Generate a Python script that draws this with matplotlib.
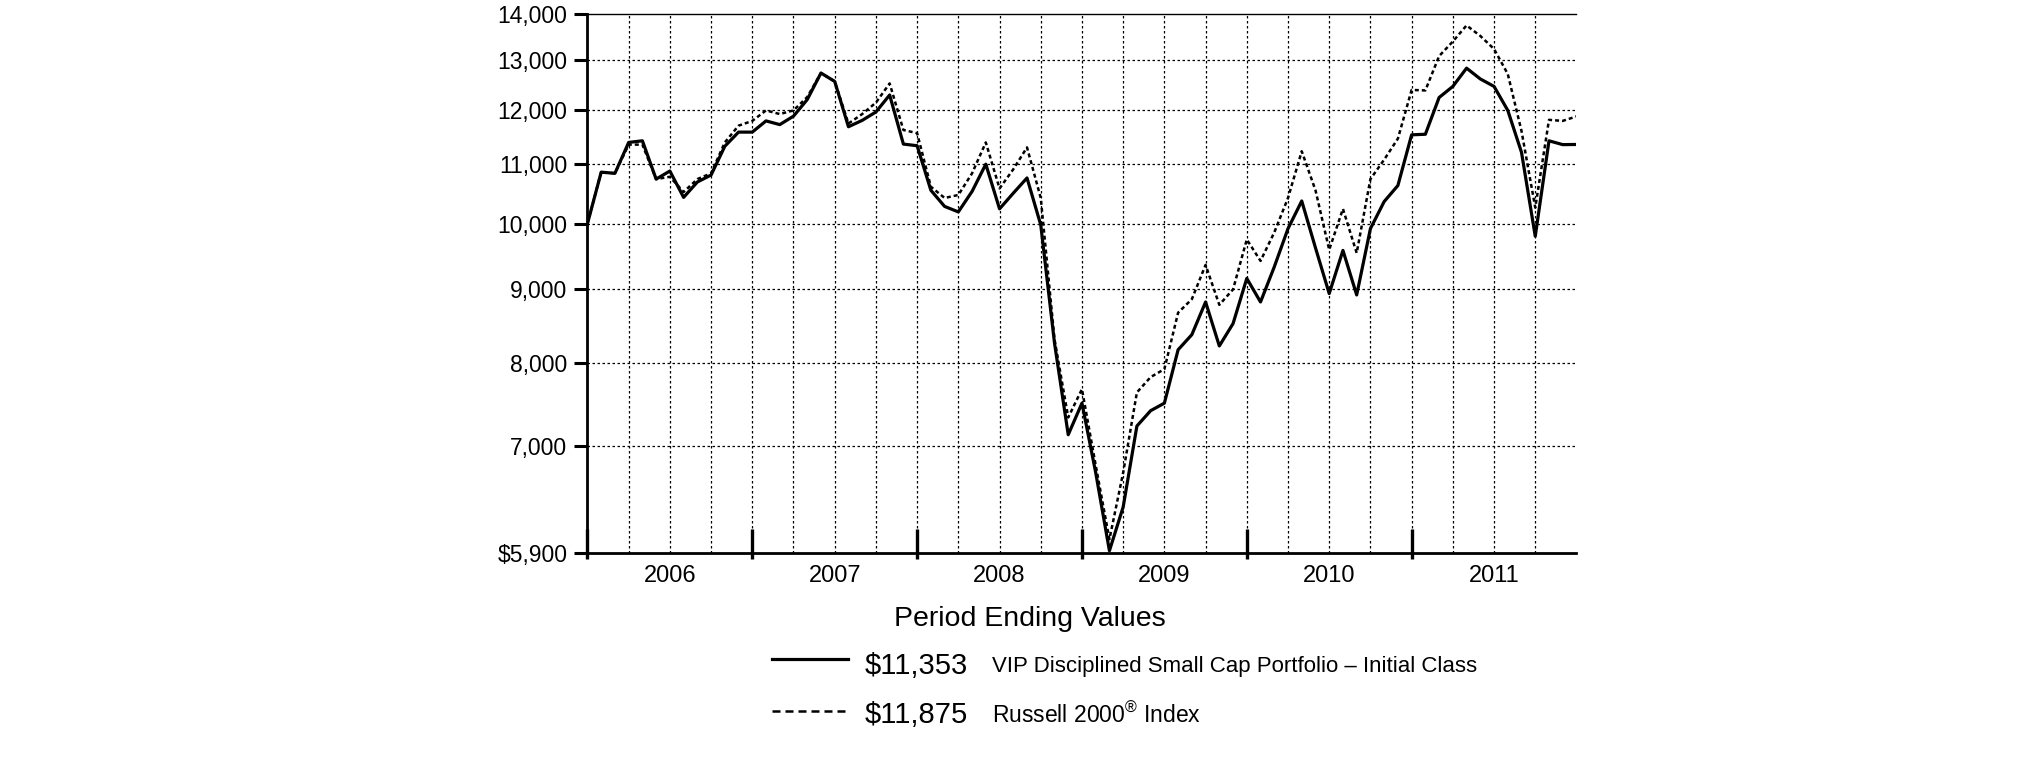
import numpy as np
import matplotlib
matplotlib.use('Agg')
import matplotlib.pyplot as plt
from matplotlib.lines import Line2D
from matplotlib.ticker import FixedLocator, FixedFormatter, NullLocator

plt.rcParams['font.family'] = ['Liberation Sans', 'DejaVu Sans']
plt.rcParams['mathtext.fontset'] = 'custom'
plt.rcParams['mathtext.rm'] = 'Liberation Sans'

# month index 0 = Dec 2005 ... 72 = Dec 2011
fund_values = [
    10000, 10860, 10840, 11390, 11420, 10740, 10880, 10430, 10690, 10810, 11320, 11580,
    11580, 11790, 11720, 11880, 12200, 12730, 12560, 11680, 11800, 11960, 12290, 11360,
    11330, 10550, 10280, 10190, 10530, 11000, 10240, 10500, 10760, 9980, 8260, 7130,
    7500, 6710, 5920, 6350, 7230, 7410, 7500, 8170, 8370, 8820, 8220, 8520,
    9160, 8820, 9330, 9920, 10370, 9620, 8940, 9580, 8920, 9920, 10360, 10630,
    11530, 11540, 12240, 12460, 12830, 12610, 12460, 11990, 11210, 9800, 11420, 11350,
    11353,
]
index_values = [
    10000, 10860, 10840, 11350, 11350, 10740, 10780, 10520, 10740, 10840, 11390, 11700,
    11790, 11990, 11920, 11990, 12250, 12730, 12560, 11740, 11920, 12140, 12520, 11620,
    11560, 10610, 10420, 10470, 10840, 11390, 10580, 10910, 11300, 10420, 8310, 7330,
    7670, 6790, 6030, 6710, 7630, 7820, 7920, 8670, 8860, 9360, 8780, 9000,
    9750, 9420, 9860, 10420, 11230, 10550, 9590, 10240, 9540, 10740, 11080, 11460,
    12390, 12380, 13080, 13390, 13740, 13510, 13230, 12710, 11600, 10260, 11810, 11790,
    11875,
]
years = ['2006', '2007', '2008', '2009', '2010', '2011']
y_ticks = [5900, 7000, 8000, 9000, 10000, 11000, 12000, 13000, 14000]
y_labels = ['$5,900', '7,000', '8,000', '9,000', '10,000', '11,000', '12,000', '13,000', '14,000']
fund_label = 'VIP Disciplined Small Cap Portfolio \u2013 Initial Class'
index_label = 'Russell 2000$^{\\mathrm{\u00ae}}$ Index'
fund_end = '\\$11,353'
index_end = '\\$11,875'

months = np.arange(len(fund_values))
year_bounds = np.arange(0, 73, 12)
year_mid = year_bounds[:-1] + 6

fig = plt.figure(figsize=(20.25, 7.61), dpi=100)
ax = fig.add_axes([0.2901, 0.2735, 0.4884, 0.7085])

# grid
dotted = (0, (2, 2))
for m in range(3, 72, 3):
    ax.axvline(m, color='black', lw=0.9, ls=dotted, zorder=1)
for v in y_ticks[1:-1]:
    ax.axhline(v, color='black', lw=0.9, ls=dotted, zorder=1)

ax.plot(months, index_values, color='black', lw=1.8, ls=(0, (1.6, 1.2)), zorder=3)
ax.plot(months, fund_values, color='black', lw=2.3, zorder=4)

ax.set_yscale('log')
ax.set_ylim(5900, 14000)
ax.set_xlim(0, 72)
ax.yaxis.set_major_locator(FixedLocator(y_ticks))
ax.yaxis.set_major_formatter(FixedFormatter(y_labels))
ax.yaxis.set_minor_locator(NullLocator())
ax.tick_params(axis='y', which='major', direction='out', length=9.5, width=2.2,
               pad=5, labelsize=16.5)

ax.xaxis.set_major_locator(FixedLocator(year_mid))
ax.xaxis.set_major_formatter(FixedFormatter(years))
ax.xaxis.set_minor_locator(NullLocator())
ax.tick_params(axis='x', which='major', length=0, pad=9, labelsize=17)

# year boundary marks
trans = ax.get_xaxis_transform()
ax.vlines(year_bounds[:-1], -0.012, 0.045, color='black', lw=2.4,
          transform=trans, clip_on=False, zorder=5)

ax.spines['right'].set_visible(False)
ax.spines['top'].set_linewidth(1.0)
ax.spines['left'].set_linewidth(2.0)
ax.spines['bottom'].set_linewidth(2.0)

# legend block
fig.text(0.5086, 0.1866, 'Period Ending Values', ha='center', va='center', fontsize=20.5)
fig.add_artist(Line2D([0.3812, 0.4190], [0.134, 0.134], color='black', lw=2.3))
fig.add_artist(Line2D([0.3812, 0.4190], [0.0657, 0.0657], color='black', lw=1.8,
                      ls=(0, (3.2, 2.0))))
fig.text(0.4272, 0.1248, fund_end, ha='left', va='center', fontsize=21)
fig.text(0.4899, 0.1248, fund_label, ha='left', va='center', fontsize=16)
fig.text(0.4272, 0.0600, index_end, ha='left', va='center', fontsize=21)
fig.text(0.4899, 0.0600, index_label, ha='left', va='center', fontsize=16.5)

fig.savefig('out.png', dpi=100)
